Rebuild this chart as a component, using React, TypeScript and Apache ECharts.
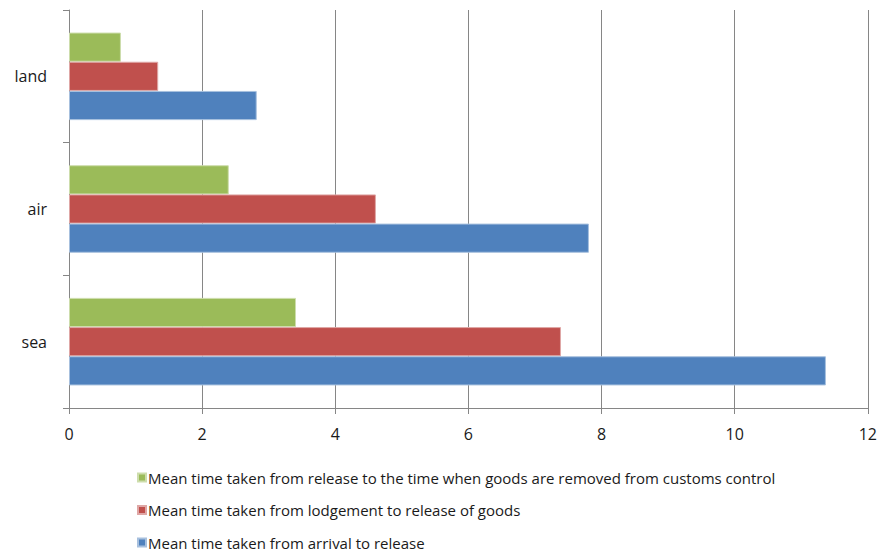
import React, { useEffect, useRef } from "react";
import * as echarts from "echarts";

const categories = ["sea", "air", "land"];
const seriesNames = [
  "Mean time taken from release to the time when goods are removed from customs control",
  "Mean time taken from lodgement to release of goods",
  "Mean time taken from arrival to release",
];
const releaseToRemoval = [3.41, 2.4, 0.78];
const lodgementToRelease = [7.39, 4.61, 1.34];
const arrivalToRelease = [11.37, 7.81, 2.82];
const colors = ["#9BBB59", "#C0504D", "#4F81BD"];
const borders = ["#CDDDAC", "#DFA7A6", "#A7C0DE"];

export default function App() {
  const ref = useRef<HTMLDivElement>(null);
  useEffect(() => {
    if (!ref.current) return;
    const chart = echarts.init(ref.current, undefined, { renderer: "svg" });
    const values = [releaseToRemoval, lodgementToRelease, arrivalToRelease];
    const font = "'Open Sans', 'Noto Sans', sans-serif";
    chart.setOption({
      animation: false,
      backgroundColor: "#ffffff",
      grid: { left: 69, right: 12, top: 10, bottom: 145, containLabel: false },
      legend: {
        orient: "vertical",
        left: 132,
        top: 465,
        height: 120,
        itemGap: 17.5,
        itemWidth: 8,
        itemHeight: 8,
        icon: "rect",
        data: seriesNames,
        textStyle: { fontFamily: font, fontSize: 15, color: "#1a1a1a", padding: [0, 0, 0, -3] },
      },
      xAxis: {
        type: "value",
        min: 0,
        max: 12,
        interval: 2,
        axisLine: { show: true, lineStyle: { color: "#868686", width: 1 } },
        axisTick: { show: true, length: 6, lineStyle: { color: "#868686" } },
        splitLine: { show: true, lineStyle: { color: "#868686", width: 1 } },
        axisLabel: { fontFamily: font, fontSize: 16, color: "#1a1a1a", margin: 18 },
      },
      yAxis: {
        type: "category",
        data: categories,
        axisLine: { show: true, lineStyle: { color: "#868686", width: 1 } },
        axisTick: { show: true, length: 6, lineStyle: { color: "#868686" } },
        axisLabel: { fontFamily: font, fontSize: 16, color: "#1a1a1a", margin: 22 },
      },
      series: seriesNames.map((name, i) => ({
        name,
        type: "bar",
        data: values[i],
        barGap: "0%",
        barCategoryGap: "34%",
        itemStyle: { color: colors[i], borderColor: borders[i], borderWidth: 1 },
      })),
    });
    return () => chart.dispose();
  }, []);
  return (
    <div
      ref={ref}
      style={{ position: "fixed", left: 0, top: 0, width: 880, height: 553 }}
    />
  );
}
